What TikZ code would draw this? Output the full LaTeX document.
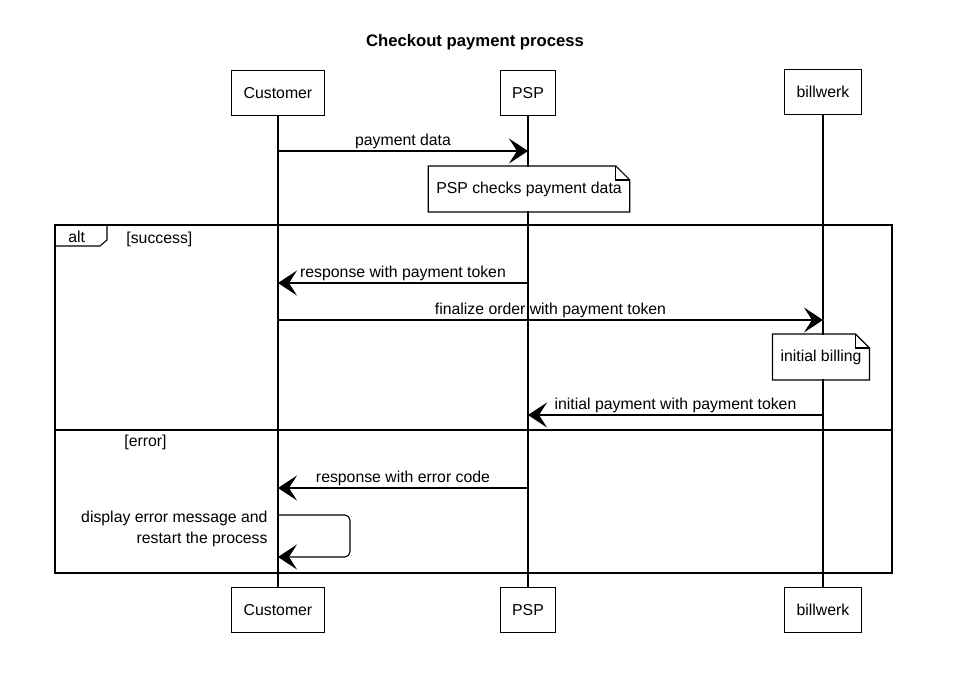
\documentclass[tikz,border=0pt]{standalone}
\usepackage{fontspec}
\setmainfont{Liberation Sans}
\usetikzlibrary{arrows.meta, positioning, calc}

\tikzstyle{actor} = [
  rectangle, draw, fill=white, inner xsep=0.24cm,
  minimum height=0.9cm, text centered
]
\tikzstyle{notebox} = [
  rectangle, fill=white, inner xsep=0.15cm, minimum height=0.9cm
]
\tikzstyle{msg} = [-{Stealth[length=0.38cm, width=0.5cm, inset=0.16cm]}]
\tikzstyle{lbl} = [above, inner sep=1pt]

\begin{document}
\begin{tikzpicture}[x=0.02cm, y=-0.02cm, line width=0.65pt,
  font=\fontsize{9}{12}\selectfont]
  \useasboundingbox (0,0) rectangle (968,692);

  % Title
  \node[font=\fontsize{9.5}{12}\selectfont\bfseries] (title) at (475,42) {Checkout payment process};

  % Participants
  \node[actor] (cust) at (278,93) {Customer};
  \node[actor] (psp) at (528,93) {PSP};
  \node[actor] (bill) at (823,92) {billwerk};
  \node[actor] (custb) at (278,610) {Customer};
  \node[actor] (pspb) at (528,610) {PSP};
  \node[actor] (billb) at (823,610) {billwerk};

  % Lifelines
  \draw (cust) -- (custb);
  \draw (psp) -- (pspb);
  \draw (bill) -- (billb);

  % payment data
  \coordinate (pd-a) at (cust |- 0,151);
  \coordinate (pd-b) at (psp |- 0,151);
  \draw[msg] (pd-a) -- node[lbl] {payment data} (pd-b);

  % Note on PSP
  \node[notebox] (check) at (529,189) {PSP checks payment data};
  \draw (check.south west) -- (check.north west) -- ([xshift=-8]check.north east)
    -- ([yshift=-8]check.north east) -- (check.south east) -- cycle;
  \draw ([xshift=-8]check.north east) -- ([xshift=-8,yshift=-8]check.north east)
    -- ([yshift=-8]check.north east);

  % alt frame
  \coordinate (alt-nw) at (55,225);
  \coordinate (alt-se) at (892,573);
  \draw (alt-nw) rectangle (alt-se);
  \draw (alt-nw) -- ++(52,0) -- ++(0,15) -- ++(-7,6) -- ++(-45,0);
  \node[anchor=west] (alttag) at (62,237) {alt};
  \node[anchor=west] (guard-ok) at (120,239) {[success]};
  \draw (alt-nw |- 0,430) -- (alt-se |- 0,430);
  \node[anchor=west] (guard-err) at (118,442) {[error]};

  % success branch
  \coordinate (tok-a) at (psp |- 0,283);
  \coordinate (tok-b) at (cust |- 0,283);
  \draw[msg] (tok-a) -- node[lbl] {response with payment token} (tok-b);

  \coordinate (fin-a) at (cust |- 0,320);
  \coordinate (fin-b) at (bill |- 0,320);
  \draw[msg] (fin-a) -- node[lbl] {finalize order with payment token} (fin-b);

  \node[notebox] (billing) at (821,357) {initial billing};
  \draw (billing.south west) -- (billing.north west) -- ([xshift=-8]billing.north east)
    -- ([yshift=-8]billing.north east) -- (billing.south east) -- cycle;
  \draw ([xshift=-8]billing.north east) -- ([xshift=-8,yshift=-8]billing.north east)
    -- ([yshift=-8]billing.north east);

  \coordinate (pay-a) at (bill |- 0,415);
  \coordinate (pay-b) at (psp |- 0,415);
  \draw[msg] (pay-a) -- node[lbl] {initial payment with payment token} (pay-b);

  % error branch
  \coordinate (err-a) at (psp |- 0,488);
  \coordinate (err-b) at (cust |- 0,488);
  \draw[msg] (err-a) -- node[lbl] {response with error code} (err-b);

  \coordinate (self-a) at (cust |- 0,515);
  \coordinate (self-b) at (cust |- 0,557);
  \draw[msg, rounded corners=3pt] (self-a) -- ++(72,0) |- (self-b);
  \node[anchor=north east, align=right] (restart) at (274,505)
    {display error message and\\restart the process};

\end{tikzpicture}
\end{document}
